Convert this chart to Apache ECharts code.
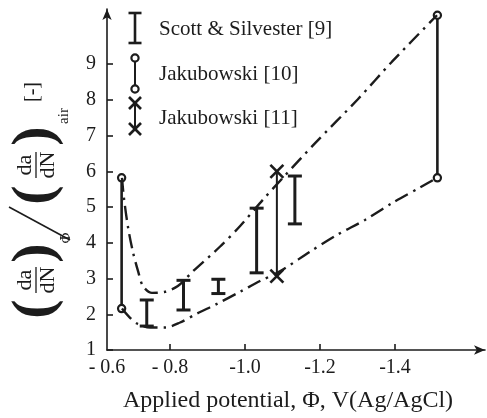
<!DOCTYPE html>
<html>
<head>
<meta charset="utf-8">
<script src="https://cdn.jsdelivr.net/npm/echarts@6/dist/echarts.min.js"></script>
<style>
  html, body { margin: 0; padding: 0; background: #fff; }
  #chart { width: 487px; height: 418px; }
</style>
</head>
<body>
<div id="chart"></div>
<script>
// Scott & Silvester [9] - scatter bands (low / high)
const scottX = [-0.738, -0.836, -0.929, -1.031, -1.133];
const scottLow = [1.67, 2.12, 2.58, 3.16, 4.53];
const scottHigh = [2.40, 2.95, 2.98, 4.97, 5.87];

// Jakubowski [10]
const jak10X = [-0.671, -1.513];
const jak10Low = [2.16, 5.82];
const jak10High = [5.82, 10.37];

// Jakubowski [11]
const jak11X = [-1.085];
const jak11Low = [3.07];
const jak11High = [6.0];

// dash-dot envelope curves
const upperX = [-0.672, -0.677, -0.688, -0.701, -0.715, -0.728, -0.752, -0.787, -0.821, -0.861, -0.933, -0.987, -1.048, -1.101, -1.187, -1.301, -1.392, -1.512];
const upperY = [5.82, 5.27, 4.44, 3.75, 3.20, 2.79, 2.60, 2.63, 2.79, 3.20, 3.89, 4.47, 5.21, 5.82, 6.79, 8.02, 9.07, 10.37];
const lowerX = [-0.672, -0.688, -0.712, -0.747, -0.787, -0.827, -0.872, -0.925, -0.987, -1.040, -1.093, -1.173, -1.245, -1.320, -1.395, -1.467, -1.512];
const lowerY = [2.16, 1.96, 1.74, 1.63, 1.63, 1.77, 2.02, 2.29, 2.63, 2.93, 3.20, 3.75, 4.22, 4.64, 5.13, 5.55, 5.82];

// axis ticks / labels
const xTickValues = [-0.8, -1.0, -1.2, -1.4];
const xLabelValues = [-0.632, -0.8, -1.0, -1.2, -1.4]; // first label sits on the axis origin
const xLabels = ['- 0.6', '- 0.8', '-1.0', '-1.2', '-1.4'];
const yTickValues = [1, 2, 3, 4, 5, 6, 7, 8, 9];

const FONT = 'Liberation Serif';
const INK = '#1c1c1c';

const zip = (a, b) => a.map((v, i) => [v, b[i]]);
const zip3 = (a, b, c) => a.map((v, i) => [v, b[i], c[i]]);

function renderIBeam(params, api) {
  const x = api.value(0);
  const lo = api.coord([x, api.value(1)]);
  const hi = api.coord([x, api.value(2)]);
  const w = 7;
  const st = { stroke: INK, lineWidth: 3 };
  return {
    type: 'group',
    children: [
      { type: 'line', shape: { x1: lo[0], y1: lo[1], x2: hi[0], y2: hi[1] }, style: st },
      { type: 'line', shape: { x1: hi[0] - w, y1: hi[1], x2: hi[0] + w, y2: hi[1] }, style: st },
      { type: 'line', shape: { x1: lo[0] - w, y1: lo[1], x2: lo[0] + w, y2: lo[1] }, style: st }
    ]
  };
}

function renderCircles(params, api) {
  const x = api.value(0);
  const lo = api.coord([x, api.value(1)]);
  const hi = api.coord([x, api.value(2)]);
  const cst = { fill: '#fff', stroke: INK, lineWidth: 2.2 };
  return {
    type: 'group',
    children: [
      { type: 'line', shape: { x1: lo[0], y1: lo[1], x2: hi[0], y2: hi[1] }, style: { stroke: INK, lineWidth: 2.6 } },
      { type: 'circle', shape: { cx: hi[0], cy: hi[1], r: 3.6 }, style: cst },
      { type: 'circle', shape: { cx: lo[0], cy: lo[1], r: 3.6 }, style: cst }
    ]
  };
}

function cross(cx, cy, s, lw) {
  return [
    { type: 'line', shape: { x1: cx - s, y1: cy - s, x2: cx + s, y2: cy + s }, style: { stroke: INK, lineWidth: lw } },
    { type: 'line', shape: { x1: cx - s, y1: cy + s, x2: cx + s, y2: cy - s }, style: { stroke: INK, lineWidth: lw } }
  ];
}

function renderCrosses(params, api) {
  const x = api.value(0);
  const lo = api.coord([x, api.value(1)]);
  const hi = api.coord([x, api.value(2)]);
  return {
    type: 'group',
    children: [
      { type: 'line', shape: { x1: lo[0], y1: lo[1], x2: hi[0], y2: hi[1] }, style: { stroke: INK, lineWidth: 2 } }
    ].concat(cross(hi[0], hi[1], 6.5, 2.6), cross(lo[0], lo[1], 6.5, 2.6))
  };
}

const chart = echarts.init(document.getElementById('chart'));

const dashDot = {
  color: INK,
  width: 2.4,
  type: [14, 6, 2.5, 6],
  cap: 'butt'
};

// y-axis title, written in a horizontal frame then turned to read bottom-up
function txt(text, x, y, size, weight) {
  return {
    type: 'text', x: x, y: y,
    style: { text: text, fontSize: size, fontWeight: weight || 'normal', fontFamily: FONT, fill: INK, align: 'center', verticalAlign: 'middle' }
  };
}
function bar(x1, x2, y) {
  return { type: 'line', shape: { x1: x1, y1: y, x2: x2, y2: y }, style: { stroke: INK, lineWidth: 1.3 } };
}
const yTitle = {
  type: 'group',
  x: 0, y: 320,
  rotation: Math.PI / 2,
  children: [
    txt('(', 11, 36, 58, 'bold'),
    txt('da', 40, 25, 22),
    bar(27, 53, 36),
    txt('dN', 40, 48, 22),
    txt(')', 67, 36, 58, 'bold'),
    txt('\u03A6', 82, 66, 15),
    { type: 'line', shape: { x1: 113, y1: 9, x2: 80, y2: 70 }, style: { stroke: INK, lineWidth: 1.6 } },
    txt('(', 125, 36, 58, 'bold'),
    txt('da', 155, 25, 22),
    bar(142, 168, 36),
    txt('dN', 155, 48, 22),
    txt(')', 184, 36, 58, 'bold'),
    txt('air', 204, 64, 15),
    txt('[-]', 228, 33, 20)
  ]
};

// legend drawn by hand, the marks are composite
const legendText = (text, y) => ({
  type: 'text', x: 159, y: y,
  style: { text: text, fontSize: 21, fontFamily: FONT, fill: INK, verticalAlign: 'middle' }
});
const legend = {
  type: 'group',
  children: [
    { type: 'line', shape: { x1: 135, y1: 13, x2: 135, y2: 43 }, style: { stroke: INK, lineWidth: 2.6 } },
    { type: 'line', shape: { x1: 128.5, y1: 13, x2: 141.5, y2: 13 }, style: { stroke: INK, lineWidth: 2.6 } },
    { type: 'line', shape: { x1: 128.5, y1: 43, x2: 141.5, y2: 43 }, style: { stroke: INK, lineWidth: 2.6 } },
    legendText('Scott & Silvester [9]', 29),
    { type: 'line', shape: { x1: 135, y1: 58, x2: 135, y2: 89 }, style: { stroke: INK, lineWidth: 2 } },
    { type: 'circle', shape: { cx: 135, cy: 58, r: 3.6 }, style: { fill: '#fff', stroke: INK, lineWidth: 2.2 } },
    { type: 'circle', shape: { cx: 135, cy: 89, r: 3.6 }, style: { fill: '#fff', stroke: INK, lineWidth: 2.2 } },
    legendText('Jakubowski [10]', 74),
    { type: 'line', shape: { x1: 135, y1: 103, x2: 135, y2: 129 }, style: { stroke: INK, lineWidth: 2 } }
  ].concat(cross(135, 103, 6, 2.6), cross(135, 129, 6, 2.6), [legendText('Jakubowski [11]', 118)])
};

chart.setOption({
  animation: false,
  grid: { left: 107, right: 2, top: 9, bottom: 63, containLabel: false },
  xAxis: {
    type: 'value',
    inverse: true,
    min: -1.640,
    max: -0.632,
    name: 'Applied potential, \u03A6, V(Ag/AgCl)',
    nameLocation: 'middle',
    nameGap: 39,
    nameTextStyle: { fontFamily: FONT, fontSize: 24, color: INK, padding: [0, 16, 0, 0] },
    axisLine: { lineStyle: { color: INK, width: 1.6 }, symbol: ['none', 'arrow'], symbolSize: [7, 11] },
    axisTick: { inside: true, length: 6, customValues: xTickValues, lineStyle: { color: INK, width: 1.6 } },
    axisLabel: {
      customValues: xLabelValues,
      margin: 8,
      fontFamily: FONT, fontSize: 20, color: INK,
      formatter: v => xLabels[xLabelValues.indexOf(v)]
    },
    splitLine: { show: false }
  },
  yAxis: {
    type: 'value',
    min: 1,
    max: 10.545,
    axisLine: { lineStyle: { color: INK, width: 1.6 }, symbol: ['none', 'arrow'], symbolSize: [7, 11] },
    axisTick: { inside: true, length: 6, customValues: yTickValues, lineStyle: { color: INK, width: 1.6 } },
    axisLabel: { customValues: yTickValues, margin: 11, fontFamily: FONT, fontSize: 20, color: INK },
    splitLine: { show: false }
  },
  graphic: [yTitle, legend],
  series: [
    { type: 'line', name: 'upper', data: zip(upperX, upperY), smooth: 0.3, symbol: 'none', lineStyle: dashDot, silent: true },
    { type: 'line', name: 'lower', data: zip(lowerX, lowerY), smooth: 0.3, symbol: 'none', lineStyle: dashDot, silent: true },
    { type: 'custom', name: 'Scott & Silvester [9]', renderItem: renderIBeam, data: zip3(scottX, scottLow, scottHigh), encode: { x: 0, y: [1, 2] } },
    { type: 'custom', name: 'Jakubowski [10]', renderItem: renderCircles, data: zip3(jak10X, jak10Low, jak10High), encode: { x: 0, y: [1, 2] } },
    { type: 'custom', name: 'Jakubowski [11]', renderItem: renderCrosses, data: zip3(jak11X, jak11Low, jak11High), encode: { x: 0, y: [1, 2] } }
  ]
});
</script>
</body>
</html>
